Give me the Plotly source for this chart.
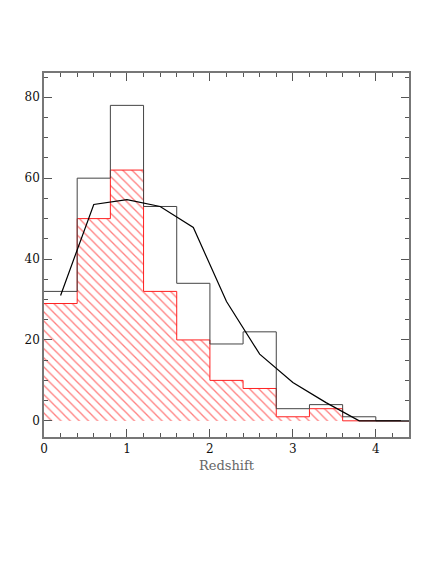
import plotly.graph_objects as go

# histogram bins (left edges, width 0.4)
bin_edges = [0.0, 0.4, 0.8, 1.2, 1.6, 2.0, 2.4, 2.8, 3.2, 3.6, 4.0, 4.4]
all_counts = [32, 60, 78, 53, 34, 19, 22, 3, 4, 1, 0]
red_counts = [29, 50, 62, 32, 20, 10, 8, 1, 3, 0, 0]

# model curve
model_z = [0.2, 0.6, 1.0, 1.4, 1.8, 2.2, 2.6, 3.0, 3.4, 3.8, 4.4]
model_n = [31, 53.5, 54.7, 53, 47.8, 29.5, 16.5, 9.5, 4.5, 0, 0]

centers = [(a + b) / 2 for a, b in zip(bin_edges[:-1], bin_edges[1:])]
width = 0.4

fig = go.Figure()

# hatched red histogram
fig.add_trace(go.Bar(
    x=centers, y=red_counts, width=width,
    marker=dict(color="rgba(0,0,0,0)", line=dict(width=0),
                pattern=dict(shape="\\", fgcolor="#ff0000", bgcolor="rgba(0,0,0,0)",
                             size=6.5, solidity=0.2)),
    showlegend=False, hoverinfo="skip",
))

# red outline
fig.add_trace(go.Scatter(
    x=bin_edges, y=red_counts + red_counts[-1:], mode="lines",
    line=dict(shape="hv", color="#ff2020", width=1), showlegend=False,
))

# black outline
fig.add_trace(go.Scatter(
    x=bin_edges, y=all_counts + all_counts[-1:], mode="lines",
    line=dict(shape="hv", color="#444444", width=1), showlegend=False,
))

# model
fig.add_trace(go.Scatter(
    x=model_z, y=model_n, mode="lines",
    line=dict(color="black", width=1.2), showlegend=False,
))

axis_common = dict(
    showgrid=False, zeroline=False, showline=True, linecolor="#777777", linewidth=1.5,
    mirror="allticks", ticks="inside", ticklen=8, tickcolor="#555555", tickwidth=1,
    tickfont=dict(family="DejaVu Serif", size=12, color="#111111"),
    automargin=False,
)

# page body adds an 8px offset, so margins are shifted to compensate
fig.update_layout(
    width=435, height=581,
    margin=dict(l=36, r=34, t=65, b=152),
    plot_bgcolor="white", paper_bgcolor="white",
    barmode="overlay", bargap=0,
    xaxis=dict(range=[0, 4.4], tickvals=[0, 1, 2, 3, 4],
               minor=dict(dtick=0.2, ticks="inside", ticklen=4, tickcolor="#555555"),
               title=dict(text="Redshift", font=dict(family="DejaVu Serif", size=13, color="#666666"),
                          standoff=6),
               **axis_common),
    yaxis=dict(range=[-4, 86], tickvals=[0, 20, 40, 60, 80],
               minor=dict(dtick=5, ticks="inside", ticklen=4, tickcolor="#555555"),
               **axis_common),
)

fig.write_html("out.html")
